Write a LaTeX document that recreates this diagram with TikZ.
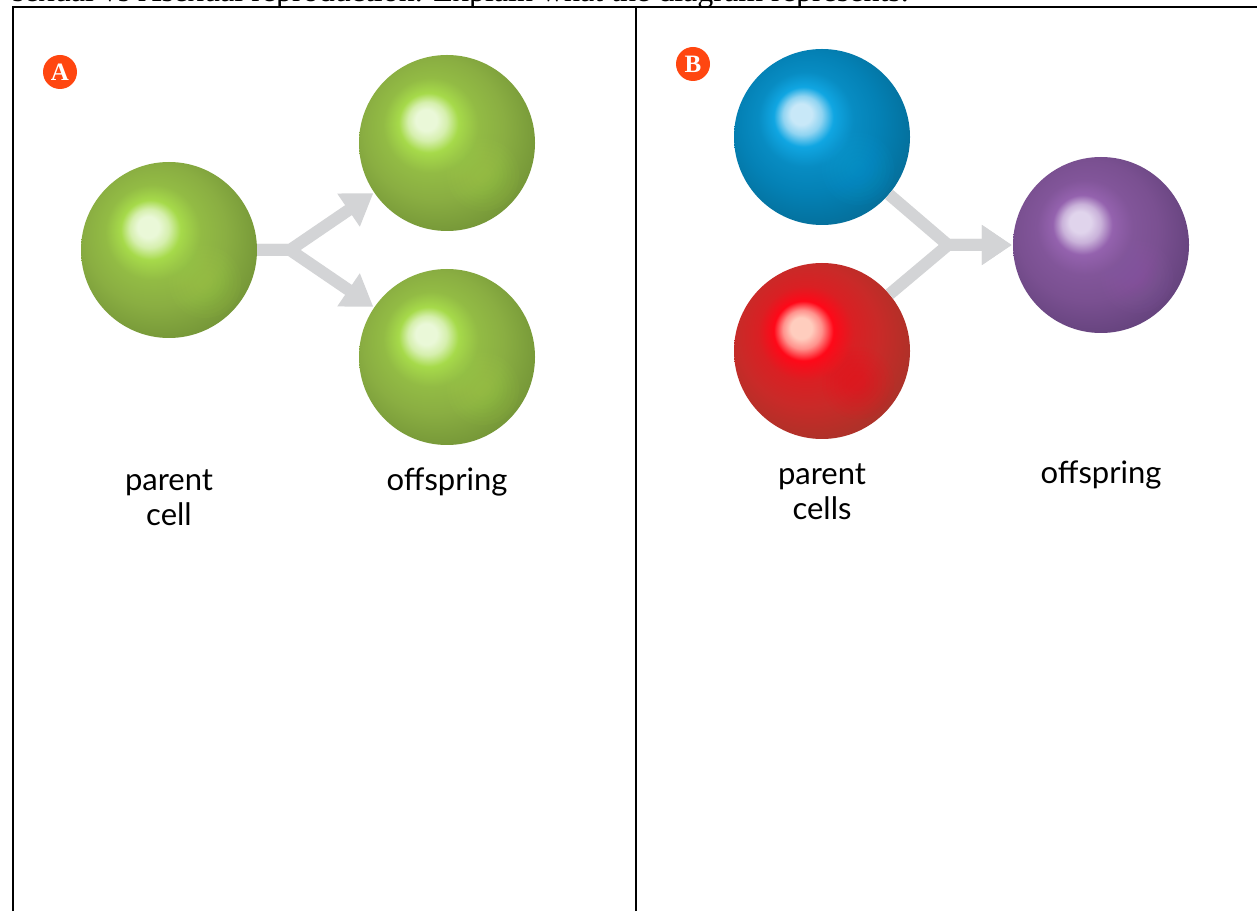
\documentclass[tikz,border=0pt]{standalone}
\usepackage{fontspec}
\setmainfont{Liberation Serif}
\newfontfamily\lblfont{Lato}
\usetikzlibrary{positioning,arrows.meta}

\definecolor{badgered}{HTML}{FF4610}
\definecolor{arrowgray}{HTML}{D3D4D6}
% green cells
\definecolor{grhl}{HTML}{EAF8D8}
\definecolor{grbr}{HTML}{A6DA4A}
\definecolor{grmn}{HTML}{8AAE42}
\definecolor{gred}{HTML}{6A8A32}
% blue cell
\definecolor{blhl}{HTML}{C8E8F8}
\definecolor{blbr}{HTML}{10A6E2}
\definecolor{blmn}{HTML}{0481B5}
\definecolor{bled}{HTML}{05658C}
% red cell
\definecolor{rdhl}{HTML}{FFCDBE}
\definecolor{rdbr}{HTML}{FF0818}
\definecolor{rdmn}{HTML}{C92A28}
\definecolor{rded}{HTML}{9C3629}
% purple cell
\definecolor{puhl}{HTML}{E0D4EC}
\definecolor{pubr}{HTML}{9462AE}
\definecolor{pumn}{HTML}{7A5091}
\definecolor{pued}{HTML}{5A3C73}

% name, highlight, bright, main, edge
\newcommand\cellshading[5]{%
  \pgfdeclareradialshading{#1}{\pgfqpoint{-6.3bp}{6.9bp}}{%
    color(0bp)=(#2); color(3bp)=(#2); color(5.5bp)=(#2!70!#3); color(8.5bp)=(#3);
    color(13.5bp)=(#3!30!#4); color(20bp)=(#4); color(34bp)=(#5); color(50bp)=(#5)}}
\cellshading{greenball}{grhl}{grbr}{grmn}{gred}
\cellshading{blueball}{blhl}{blbr}{blmn}{bled}
\cellshading{redball}{rdhl}{rdbr}{rdmn}{rded}
\cellshading{purpleball}{puhl}{pubr}{pumn}{pued}

\begin{document}
\begin{tikzpicture}[x=1pt,y=1pt,
  cell/.style 2 args={circle, minimum size=176pt, inner sep=0pt, shade, shading=#1,
    path picture={\foreach \r in {36,32,...,8}
      \fill[#2, opacity=.05] ([shift={(36pt,-32pt)}]path picture bounding box.center) circle (\r pt);}},
  branch/.style={draw=arrowgray, line width=12pt, line join=miter},
  tip/.style={-{Triangle[length=30pt,width=38pt]}, shorten >=1pt},
  badge/.style={circle, fill=badgered, text=white, minimum size=34pt, inner sep=0pt,
    font=\bfseries\fontsize{25}{25}\selectfont},
  lbl/.style={inner sep=0pt, align=center, font=\lblfont\fontsize{31}{35}\selectfont},
  frame/.style={line width=2pt}]
\clip (0,0) rectangle (1257,911);
\fill[white] (0,0) rectangle (1257,911);

% question line, cut off at the top
\node[anchor=base west, inner sep=0pt, font=\fontsize{32}{34}\selectfont] (question)
  at (12,909) {sexual vs Asexual reproduction. Explain what the diagram represents.};

\draw[frame] (13,0) -- (13,904) -- (1257,904);
\draw[frame] (636,0) -- (636,904);

%A: asexual
\node[badge] (badgeA) at (60,839) {A};
\node[cell={greenball}{grbr}] (parent) at (169,661) {};
\node[cell={greenball}{grbr}] (offa) at (447,768) {};
\node[cell={greenball}{grbr}] (offb) at (447,554) {};
\coordinate (forkA) at (290,661);
\draw[branch,tip] (parent) -- (forkA) -- (offa);
\draw[branch,tip] (parent) -- (forkA) -- (offb);
\node[lbl, below=131pt of parent] (parentlbl) {parent\\cell};
\node[lbl, below=22pt of offb] (offlblA) {offspring};

%B: sexual
\node[badge] (badgeB) at (693,847) {B};
\node[cell={blueball}{blbr}] (blue) at (822,774) {};
\node[cell={redball}{rdbr}] (red) at (822,560) {};
\node[cell={purpleball}{pubr}] (purple) at (1101,666) {};
\coordinate (forkB) at (948,666);
\draw[branch,tip] (blue) -- (forkB) -- (purple);
\draw[branch,tip] (red) -- (forkB) -- (purple);
\node[lbl, below=24pt of red] (parentslbl) {parent\\cells};
\node[lbl, below=127pt of purple] (offlblB) {offspring};
\end{tikzpicture}
\end{document}
